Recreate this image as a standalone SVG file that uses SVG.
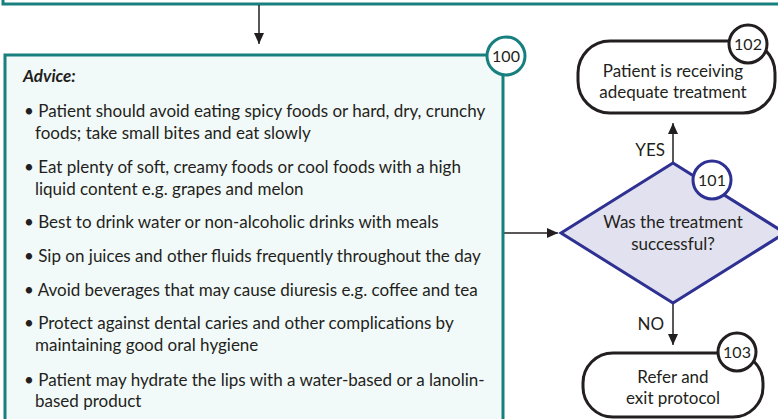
<svg xmlns="http://www.w3.org/2000/svg" width="778" height="419" viewBox="0 0 778 419">
<defs>
<marker id="arr" markerWidth="10" markerHeight="12" refX="11" refY="5" orient="auto" markerUnits="userSpaceOnUse">
<path d="M0,0 L11,5 L0,10 Z" fill="#231f20"/>
</marker>
<style>
text{font-family:Lato,"Liberation Sans",sans-serif;fill:#231f20;font-size:17px}
.c{text-anchor:middle}
.num{font-size:16px;text-anchor:middle}
.teal{fill:none;stroke:#17807f;stroke-width:3}
.blk{fill:#fff;stroke:#231f20;stroke-width:3}
.blu{stroke:#2e3192;stroke-width:3}
.ln{stroke:#231f20;stroke-width:1.5;fill:none}
</style>
</defs>
<g id="top">
<rect x="3" y="-30" width="800" height="34" class="teal"/>
</g>
<g id="connectors">
<line x1="259" y1="5" x2="259" y2="44" class="ln" marker-end="url(#arr)"/>
<line x1="503" y1="233" x2="558" y2="233" class="ln" marker-end="url(#arr)"/>
<line x1="673" y1="163" x2="673" y2="123" class="ln" marker-end="url(#arr)"/>
<line x1="673" y1="303" x2="673" y2="345" class="ln" marker-end="url(#arr)"/>
<text x="665" y="156" style="text-anchor:end">YES</text>
<text x="664" y="330" style="text-anchor:end">NO</text>
</g>
<g id="n100">
<rect x="5" y="55" width="498" height="380" fill="#f2f9f9" stroke="#17807f" stroke-width="3"/>
<circle cx="506" cy="56" r="19" fill="#fff" stroke="#17807f" stroke-width="3"/>
<text x="506" y="62" class="num">100</text>
<text x="23" y="82" style="font-weight:bold;font-style:italic">Advice:</text>
<text x="24" y="117">• Patient should avoid eating spicy foods or hard, dry, crunchy</text>
<text x="35" y="139">foods; take small bites and eat slowly</text>
<text x="24" y="173">• Eat plenty of soft, creamy foods or cool foods with a high</text>
<text x="35" y="195">liquid content e.g. grapes and melon</text>
<text x="24" y="228">• Best to drink water or non-alcoholic drinks with meals</text>
<text x="24" y="262">• Sip on juices and other fluids frequently throughout the day</text>
<text x="24" y="296">• Avoid beverages that may cause diuresis e.g. coffee and tea</text>
<text x="24" y="329">• Protect against dental caries and other complications by</text>
<text x="35" y="351">maintaining good oral hygiene</text>
<text x="24" y="386">• Patient may hydrate the lips with a water-based or a lanolin-</text>
<text x="35" y="407">based product</text>
</g>
<g id="n101">
<polygon points="561,233 673,163 785,233 673,303" fill="#e1e1ef" class="blu"/>
<circle cx="712" cy="180" r="19" fill="#fff" class="blu"/>
<text x="712" y="186" class="num">101</text>
<text x="673" y="228" class="c">Was the treatment</text>
<text x="673" y="250" class="c">successful?</text>
</g>
<g id="n102">
<rect x="578" y="41" width="197" height="72" rx="32" class="blk"/>
<circle cx="748" cy="44" r="19" class="blk"/>
<text x="748" y="50" class="num">102</text>
<text x="673" y="77" class="c">Patient is receiving</text>
<text x="673" y="98" class="c">adequate treatment</text>
</g>
<g id="n103">
<rect x="583" y="353" width="180" height="64" rx="30" class="blk"/>
<circle cx="737" cy="352" r="19" class="blk"/>
<text x="737" y="358" class="num">103</text>
<text x="673" y="383" class="c">Refer and</text>
<text x="673" y="404" class="c">exit protocol</text>
</g>
</svg>
